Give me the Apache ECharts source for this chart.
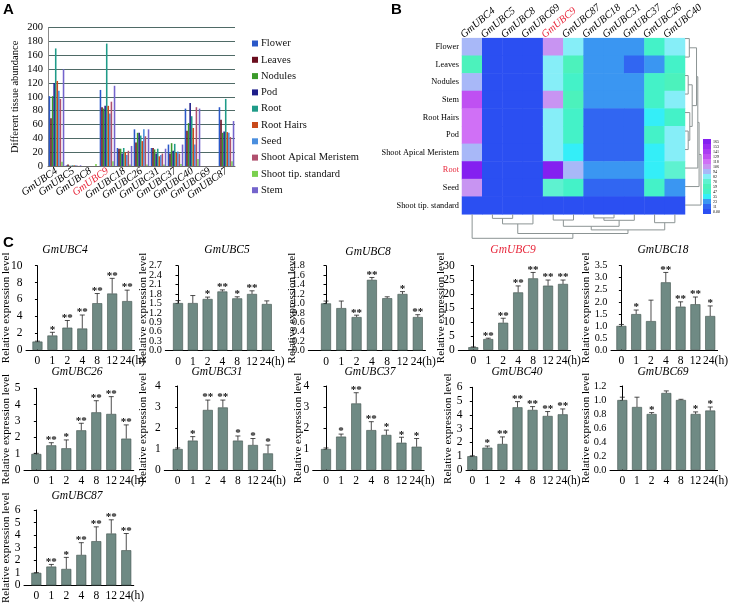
<!DOCTYPE html>
<html><head><meta charset="utf-8">
<script src="https://cdn.jsdelivr.net/npm/echarts@6/dist/echarts.min.js"></script>
<style>html,body{margin:0;padding:0;background:#fff}#c{width:731px;height:605px}</style>
</head><body><div id="c"></div>
<script>
// ================= DATA =================
// Panel A: tissue abundance per gene
const genes = ['GmUBC4','GmUBC5','GmUBC8','GmUBC9','GmUBC18','GmUBC26','GmUBC31','GmUBC37','GmUBC40','GmUBC69','GmUBC87'];
const tissues = ['Flower','Leaves','Nodules','Pod','Root','Root Hairs','Seed','Shoot Apical Meristem','Shoot tip. standard','Stem'];
const flower    = [101, 1,   0, 110, 26, 53, 26, 31, 83, 0, 85];
const leaves    = [69,  2,   0, 85,  25, 34, 26, 18, 51, 0, 67];
const nodules   = [101, 0.5, 0, 83,  25, 48, 24, 33, 62, 0, 48];
const pod       = [120, 0.5, 0, 87,  18, 48, 18, 22, 91, 0, 50];
const root      = [170, 1,   0, 177, 26, 44, 25, 32, 72, 0, 97];
const rootHairs = [123, 1,   0, 87,  20, 36, 14, 19, 55, 0, 49];
const seed      = [109, 1,   0, 76,  16, 53, 16, 21, 31, 0, 48];
const sam       = [97,  0.5, 0, 93,  22, 43, 18, 18, 85, 0, 42];
const shootTip  = [6,   0,   3, 7,   2,  2,  2,  3,  10, 0, 7];
const stem      = [140, 1,   0, 116, 29, 53, 25, 31, 83, 0, 65];
const tissueData = [flower, leaves, nodules, pod, root, rootHairs, seed, sam, shootTip, stem];

// Panel B: cluster orders of the heatmap
const heatCols = ['GmUBC4','GmUBC5','GmUBC8','GmUBC69','GmUBC9','GmUBC87','GmUBC18','GmUBC31','GmUBC37','GmUBC26','GmUBC40'];
const heatRows = ['Flower','Leaves','Nodules','Stem','Root Hairs','Pod','Shoot Apical Meristem','Root','Seed','Shoot tip. standard'];
const scaleBreaks = [0, 11, 23, 35, 47, 59, 70, 82, 94, 106, 118, 129, 141, 153, 165];
const scaleLabels = ['0.00','11','23','35','47','59','70','82','94','106','118','129','141','153','165'];
// dendrograms: [childA, childB, height]; index >= leaf count refers to an earlier merge
const rowTree = [[0,1,0.27],[2,3,0.2],[5,6,0.2],[4,12,0.3],[11,13,0.45],[10,14,0.72],[15,7,0.8],[16,8,0.88],[17,9,1.0]];
const colTree = [[1,2,0.17],[11,3,0.4],[4,5,0.24],[6,7,0.15],[14,8,0.25],[9,10,0.35],[13,15,0.5],[17,16,0.65],[12,18,0.8],[0,19,1.0]];

// Panel C: relative expression
const times = ['0','1','2','4','8','12','24'];
const val4  = [1.0,1.72,2.65,2.55,5.55,6.7,5.8];   const err4  = [0.05,0.38,0.85,1.6,1.15,1.8,1.3];   const sig4  = ['','*','**','**','**','**','**'];
const val5  = [1.51,1.51,1.64,1.88,1.66,1.8,1.48]; const err5  = [0.08,0.24,0.06,0.05,0.05,0.1,0.1];  const sig5  = ['','','*','**','*','**',''];
const val8  = [1.0,0.9,0.71,1.5,1.11,1.2,0.71];    const err8  = [0.05,0.15,0.04,0.05,0.03,0.05,0.05];const sig8  = ['','','**','**','','*','**'];
const val9  = [1.0,3.9,9.7,20.5,25.5,22.9,23.5];   const err9  = [0.1,0.3,1.6,2.3,2.1,2.0,1.4];       const sig9  = ['','**','**','**','**','**','**'];
const val18 = [1.0,1.49,1.2,2.81,1.8,1.9,1.41];    const err18 = [0.06,0.17,0.87,0.41,0.2,0.3,0.42];  const sig18 = ['','*','','**','**','**','*'];
const val26 = [0.98,1.51,1.33,2.43,3.53,3.43,1.92];const err26 = [0.04,0.16,0.51,0.43,0.71,1.06,0.84];const sig26 = ['','**','*','**','**','**','**'];
const val31 = [1.0,1.4,2.86,2.98,1.4,1.19,0.79];   const err31 = [0.05,0.19,0.47,0.35,0.22,0.31,0.4]; const sig31 = ['','*','**','**','*','*','*'];
const val37 = [1.0,1.59,3.17,1.9,1.67,1.3,1.11];   const err37 = [0.05,0.12,0.51,0.4,0.23,0.26,0.39]; const sig37 = ['','*','**','**','*','*','*'];
const val40 = [1.0,1.62,1.89,4.55,4.36,3.92,4.04]; const err40 = [0.03,0.12,0.51,0.41,0.24,0.32,0.39];const sig40 = ['','*','**','**','**','**','**'];
const val69 = [1.0,0.9,0.8,1.1,1.0,0.8,0.85];      const err69 = [0.04,0.14,0.02,0.03,0.01,0.03,0.05];const sig69 = ['','','*','','','*','*'];
const val87 = [1.0,1.5,1.31,2.43,3.52,4.13,2.8];   const err87 = [0.02,0.17,0.92,0.97,1.14,1.09,1.33];const sig87 = ['','**','*','**','**','**','**'];

// ================= STYLE / LAYOUT =================
const SERIF = '"Liberation Serif","Times New Roman",serif';
const RED = '#e8283c';
const tissueColors = ['#2a58c8','#6a0d1e','#3b9a2b','#1e1e8a','#1f9b88','#c84a1c','#4a8ede','#b0506e','#7ad04e','#7464cc'];
const heatColors = ['#2b4ff2','#3166f2','#3a96f2','#34eef8','#44f2c8','#4cf2bc','#5ef2d0','#86eef8','#a8b8f8','#c894f2','#d070f6','#bf50f2','#ab3cf2','#9a2cf2','#8420f0'];

const chart = echarts.init(document.getElementById('c'));
const grid = [], xAxis = [], yAxis = [], series = [], graphic = [];

function txt(x, y, text, font, fill, align, valign) {
  graphic.push({type:'text', x, y, silent:true, style:{text, font, fill: fill||'#000',
    textAlign: align||'center', align: align||'center', textVerticalAlign: valign||'middle', verticalAlign: valign||'middle'}});
}
txt(3, 10, 'A', 'bold 15px "Liberation Sans",Arial,sans-serif', '#000', 'left');
txt(391, 10, 'B', 'bold 15px "Liberation Sans",Arial,sans-serif', '#000', 'left');
txt(3, 243, 'C', 'bold 15px "Liberation Sans",Arial,sans-serif', '#000', 'left');

// ---------- Panel A ----------
grid.push({left:48, top:27.7, width:187, height:138.3});
xAxis.push({type:'category', gridIndex:0, data:genes,
  axisLine:{lineStyle:{color:'#6a6a6a'}}, axisTick:{length:3, lineStyle:{color:'#6a6a6a'}},
  axisLabel:{interval:0, rotate:35, margin:4, fontFamily:SERIF, fontStyle:'italic', fontSize:10.5, color:'#000',
    formatter: v => v === 'GmUBC9' ? '{r|' + v + '}' : v,
    rich:{r:{color:RED, fontFamily:SERIF, fontStyle:'italic', fontSize:10.5}}}});
yAxis.push({type:'value', gridIndex:0, min:0, max:200, interval:20,
  axisLine:{show:true, lineStyle:{color:'#8a8a8a'}}, axisTick:{show:false},
  splitLine:{lineStyle:{color:'#4f6a66'}},
  axisLabel:{fontFamily:SERIF, fontSize:10.5, color:'#000', margin:5},
  name:'Different tissue abundance', nameLocation:'middle', nameGap:27,
  nameTextStyle:{fontFamily:SERIF, fontSize:10.5, color:'#000'}});
tissues.forEach((t, i) => series.push({type:'bar', name:t, xAxisIndex:0, yAxisIndex:0, data:tissueData[i],
  itemStyle:{color:tissueColors[i]}, barGap:'0%', barCategoryGap:'8%', silent:true}));

// ---------- Panel B: heatmap ----------
const HB = {left:462, top:29.3, width:223, height:185};
grid.push({left:HB.left, top:HB.top, width:HB.width, height:HB.height});
const heatX = xAxis.length;
xAxis.push({type:'category', gridIndex:1, position:'top', data:heatCols, show:false});
yAxis.push({type:'category', gridIndex:1, inverse:true, data:heatRows,
  axisLine:{show:false}, axisTick:{show:false}, splitLine:{show:false},
  axisLabel:{interval:0, margin:3, fontFamily:SERIF, fontSize:8.3, color:'#000',
    formatter: v => v === 'Root' ? '{r|' + v + '}' : v,
    rich:{r:{color:RED, fontFamily:SERIF, fontSize:8.3}}}});
// label-only axis: gene names start at each column's left edge
xAxis.push({type:'category', gridIndex:1, position:'top', boundaryGap:false, data:heatCols.concat(['']),
  axisLine:{show:false}, axisTick:{show:false}, splitLine:{show:false},
  axisLabel:{interval:0, rotate:-40, margin:2, fontFamily:SERIF, fontStyle:'italic', fontSize:10.5, color:'#000',
    formatter: v => v === 'GmUBC9' ? '{r|' + v + '}' : v,
    rich:{r:{color:RED, fontFamily:SERIF, fontStyle:'italic', fontSize:10.5}}}});
const heatData = [];
heatCols.forEach((g, j) => heatRows.forEach((r, i) => {
  heatData.push([j, i, tissueData[tissues.indexOf(r)][genes.indexOf(g)]]);
}));
const heatSeriesIndex = series.length;
series.push({type:'heatmap', xAxisIndex:heatX, yAxisIndex:1, data:heatData, silent:true, itemStyle:{borderWidth:0}});

// dendrograms
function treeSegments(tree, nLeaves) {
  const pos = [], hgt = [];
  for (let i = 0; i < nLeaves; i++) { pos.push(i); hgt.push(0); }
  const segs = [];
  tree.forEach(([a, b, h]) => {
    segs.push([pos[a], pos[b], hgt[a], hgt[b], h]);
    pos.push((pos[a] + pos[b]) / 2); hgt.push(h);
  });
  return segs;
}
function dendroRender(vertical) {
  return function (params, api) {
    const pa = api.value(0), pb = api.value(1), ha = api.value(2), hb = api.value(3), h = api.value(4);
    const P = (p, hh) => vertical ? api.coord([p, hh]) : api.coord([hh, p]);
    return {type:'polyline', shape:{points:[P(pa, ha), P(pa, h), P(pb, h), P(pb, hb)]},
      style:{stroke:'#8c9494', fill:null, lineWidth:1}};
  };
}
// row dendrogram (right)
const rdG = grid.length;
grid.push({left:685, top:HB.top, width:16, height:HB.height});
const rdX = xAxis.length;
xAxis.push({type:'value', gridIndex:rdG, min:0, max:1, show:false});
const rdY = yAxis.length;
yAxis.push({type:'value', gridIndex:rdG, min:-0.5, max:heatRows.length - 0.5, inverse:true, show:false});
series.push({type:'custom', xAxisIndex:rdX, yAxisIndex:rdY, silent:true, renderItem:dendroRender(false),
  data:treeSegments(rowTree, heatRows.length)});
// column dendrogram (bottom)
const cdG = grid.length;
grid.push({left:HB.left, top:HB.top + HB.height, width:HB.width, height:24});
const cdX = xAxis.length;
xAxis.push({type:'value', gridIndex:cdG, min:-0.5, max:heatCols.length - 0.5, show:false});
const cdY = yAxis.length;
yAxis.push({type:'value', gridIndex:cdG, min:0, max:1, inverse:true, show:false});
series.push({type:'custom', xAxisIndex:cdX, yAxisIndex:cdY, silent:true, renderItem:dendroRender(true),
  data:treeSegments(colTree, heatCols.length)});

const pieces = scaleBreaks.map((b, k) => ({
  gte: b, lt: k < scaleBreaks.length - 1 ? scaleBreaks[k + 1] : 1000,
  color: heatColors[k], label: scaleLabels[k]}));

// ---------- Panel C ----------
const cfgs = [
  {g:'GmUBC4',  v:val4,  e:err4,  s:sig4,  max:10,  step:2,   dec:0, L:22.7,  first:34.5,  sp:15.4,  top:265.7, bot:350,   ng:14,  tx:65,  ty:250},
  {g:'GmUBC5',  v:val5,  e:err5,  s:sig5,  max:2.7, step:0.3, dec:1, L:165.3, first:178,   sp:14.8,  top:265.7, bot:350.5, ng:17,  tx:227, ty:250},
  {g:'GmUBC8',  v:val8,  e:err8,  s:sig8,  max:1.8, step:0.2, dec:1, L:308.3, first:326,   sp:15.3,  top:265.7, bot:350.5, ng:11,  tx:368, ty:252},
  {g:'GmUBC9',  v:val9,  e:err9,  s:sig9,  max:30,  step:5,   dec:0, L:458.3, first:473.3, sp:14.95, top:265.7, bot:350,   ng:12,  tx:513, ty:250, red:true},
  {g:'GmUBC18', v:val18, e:err18, s:sig18, max:3.5, step:0.5, dec:1, L:611,   first:621.7, sp:15.27, top:265.7, bot:350,   ng:19,  tx:663, ty:250},
  {g:'GmUBC26', v:val26, e:err26, s:sig26, max:5,   step:1,   dec:0, L:21.7,  first:34.3,  sp:15.3,  top:388.3, bot:470,   ng:12,  tx:77,  ty:372},
  {g:'GmUBC31', v:val31, e:err31, s:sig31, max:4,   step:1,   dec:0, L:164.3, first:177.7, sp:15.05, top:386,   bot:470,   ng:16,  tx:217, ty:372},
  {g:'GmUBC37', v:val37, e:err37, s:sig37, max:4,   step:1,   dec:0, L:312.7, first:326,   sp:15.1,  top:386,   bot:470,   ng:9.5, tx:370, ty:372},
  {g:'GmUBC40', v:val40, e:err40, s:sig40, max:6,   step:1,   dec:0, L:466,   first:472.3, sp:15.07, top:387.3, bot:470,   ng:12,  tx:517, ty:372},
  {g:'GmUBC69', v:val69, e:err69, s:sig69, max:1.2, step:0.2, dec:1, L:610,   first:622.7, sp:15.1,  top:386,   bot:470,   ng:18,  tx:663, ty:372},
  {g:'GmUBC87', v:val87, e:err87, s:sig87, max:6,   step:1,   dec:0, L:21.7,  first:34.3,  sp:15.3,  top:510,   bot:592.3, ng:12,  tx:77,  ty:496}
];
function makeErr(sig) {
  return function (params, api) {
    const i = api.value(0), v = api.value(1), e = api.value(2);
    const p0 = api.coord([i, v]), p1 = api.coord([i, v + e]);
    const ch = [
      {type:'line', shape:{x1:p0[0], y1:p0[1], x2:p1[0], y2:p1[1]}, style:{stroke:'#222', lineWidth:0.8}},
      {type:'line', shape:{x1:p1[0] - 2.5, y1:p1[1], x2:p1[0] + 2.5, y2:p1[1]}, style:{stroke:'#222', lineWidth:0.8}}
    ];
    const s = sig[params.dataIndex];
    if (s) ch.push({type:'text', x:p1[0], y:p1[1] + 3, style:{text:s, font:'bold 11px ' + SERIF, fill:'#111',
      textAlign:'center', align:'center', textVerticalAlign:'bottom', verticalAlign:'bottom'}});
    return {type:'group', children:ch};
  };
}
// x label positions: the last label ("24(h)") is centred slightly right of its bar so that "24" sits under it
const xLabelPos = times.map((t, k) => k === times.length - 1 ? k + 0.36 : k);
cfgs.forEach((c) => {
  const gi = grid.length;
  const xi = xAxis.length, yi = yAxis.length;
  const xmin = -(c.first - c.L) / c.sp, xmax = 6.5;
  const fs = c.dec ? 10.3 : 11.5;
  const yTickLabels = [];
  for (let k = 0; k * c.step <= c.max + 1e-9; k++) yTickLabels.push((k * c.step).toFixed(c.dec));
  grid.push({left:c.L, top:c.top, width:(xmax - xmin) * c.sp, height:c.bot - c.top});
  xAxis.push({type:'value', gridIndex:gi, min:xmin, max:xmax,
    axisLine:{lineStyle:{color:'#000', width:1}}, axisTick:{show:false}, splitLine:{show:false},
    axisLabel:{customValues:xLabelPos, showMinLabel:true, showMaxLabel:true, hideOverlap:false,
      margin:5, fontFamily:SERIF, fontSize:11.5, color:'#000',
      formatter: (val) => { const k = Math.round(val); return k === times.length - 1 ? times[k] + '(h)' : times[k]; }}});
  yAxis.push({type:'value', gridIndex:gi, min:0, max:c.max, interval:c.step, position:'left',
    axisLine:{show:true, lineStyle:{color:'#000', width:1}}, axisTick:{show:true, length:2.5, lineStyle:{color:'#000'}},
    splitLine:{show:false}, axisLabel:{show:false},
    name:'Relative expression level', nameLocation:'middle', nameGap:c.ng,
    nameTextStyle:{fontFamily:SERIF, fontSize:11, color:'#000'}});
  // tick-label axis (all labels kept)
  yAxis.push({type:'category', gridIndex:gi, position:'left', boundaryGap:false, data:yTickLabels,
    axisLine:{show:false}, axisTick:{show:false}, splitLine:{show:false},
    axisLabel:{interval:0, margin:3.5, fontFamily:SERIF, fontSize:fs, color:'#000'}});
  series.push({type:'bar', xAxisIndex:xi, yAxisIndex:yi, silent:true, barWidth:10,
    data:c.v.map((y, k) => [k, y]),
    itemStyle:{color:'#6f8a84', borderColor:'#41524e', borderWidth:0.6}});
  series.push({type:'custom', xAxisIndex:xi, yAxisIndex:yi, silent:true, renderItem:makeErr(c.s), z:3,
    data:c.v.map((y, k) => [k, y, c.e[k]])});
  txt(c.tx, c.ty, c.g, 'italic 11.5px ' + SERIF, c.red ? RED : '#000');
});

chart.setOption({
  animation:false,
  legend:{orient:'vertical', left:247, top:33, itemWidth:6, itemHeight:6, itemGap:5.3, icon:'rect',
    data:tissues, textStyle:{fontFamily:SERIF, fontSize:10.5, color:'#111', padding:[0,0,0,-2]}, selectedMode:false},
  visualMap:{type:'piecewise', seriesIndex:heatSeriesIndex, pieces:pieces, orient:'vertical', left:703, top:139,
    align:'left', itemWidth:8, itemHeight:5, itemGap:0, itemSymbol:'rect', textGap:2, showLabel:true, padding:0,
    textStyle:{fontSize:4, lineHeight:5, color:'#000', fontFamily:SERIF}, selectedMode:false},
  grid, xAxis, yAxis, series, graphic
});
</script></body></html>
